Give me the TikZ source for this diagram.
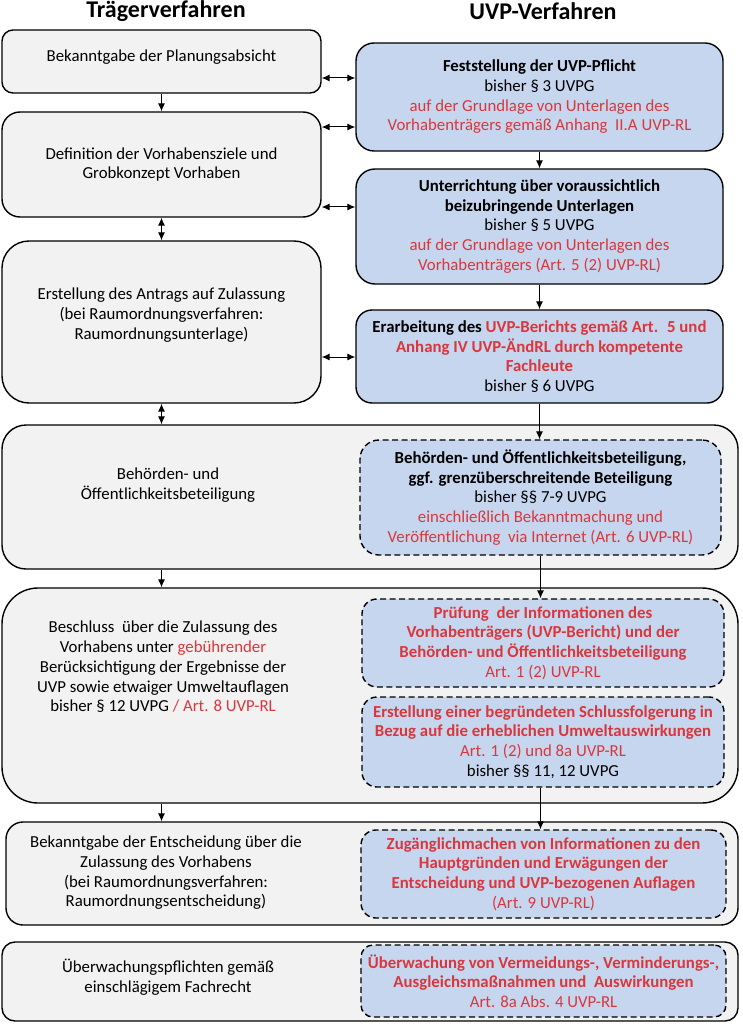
\documentclass[tikz,border=0pt]{standalone}
\usepackage{fontspec}
\setmainfont{Carlito}
\usetikzlibrary{arrows.meta}

\definecolor{grayfill}{RGB}{242,242,242}
\definecolor{bluefill}{RGB}{197,214,238}
\definecolor{uvpred}{RGB}{218,55,60}
\newcommand{\uvprot}[1]{\textcolor{uvpred}{#1}}

\tikzset{
	trbox/.style={draw=black, line width=1.4pt, fill=grayfill, align=center, inner sep=0pt},
	uvpbox/.style={draw=black, line width=1.4pt, fill=bluefill, align=center, inner sep=0pt},
	uvpdash/.style={uvpbox, dash pattern=on 6pt off 3.5pt},
	trtext/.style={align=center, inner sep=0pt},
	title/.style={font=\fontsize{24}{28}\selectfont\bfseries},
	arr/.style={-{Latex[length=8pt,width=7pt]}, line width=1pt},
	dbl/.style={{Latex[length=8pt,width=7pt]}-{Latex[length=8pt,width=7pt]}, line width=1pt}
}

\begin{document}
\begin{tikzpicture}[x=1pt, y=-1pt, every node/.style={font=\fontsize{16.8}{19.7}\selectfont}]
	\useasboundingbox (0,0) rectangle (742,1024);
	% titles
	\node[title] (trtitle) at (166,11) {Trägerverfahren};
	\node[title] (uvptitle) at (543,11) {UVP-Verfahren};
	% Traegerverfahren
	\node[trbox, minimum width=319pt, minimum height=63pt, rounded corners=11pt, text depth=12pt] (plan) at (161.5,61.5) {Bekanntgabe der Planungsabsicht};
	\node[trbox, minimum width=319pt, minimum height=105pt, rounded corners=18pt] (ziele) at (161.5,164.5) {Definition der Vorhabensziele und\\Grobkonzept Vorhaben};
	\node[trbox, minimum width=319pt, minimum height=162pt, rounded corners=27pt] (antrag) at (161.5,322) {};
	\node[trtext] (antragtxt) at (161.5,315) {Erstellung des Antrags auf Zulassung\\(bei Raumordnungsverfahren:\\Raumordnungsunterlage)};
	\node[trbox, minimum width=736pt, minimum height=144pt, rounded corners=24pt] (beteil) at (370,497) {};
	\node[trtext] (beteiltxt) at (168,485) {Behörden- und\\Öffentlichkeitsbeteiligung};
	\node[trbox, minimum width=736pt, minimum height=215pt, rounded corners=36pt] (beschluss) at (370,695.5) {};
	\node[trtext] (beschlusstxt) at (163,667) {Beschluss~ über die Zulassung des\\Vorhabens unter \uvprot{gebührender}\\Berücksichtigung der Ergebnisse der\\UVP sowie etwaiger Umweltauflagen\\bisher § 12 UVPG \uvprot{/ Art. 8 UVP-RL}};
	\node[trbox, minimum width=732pt, minimum height=103pt, rounded corners=17pt] (entsch) at (372,873.5) {};
	\node[trtext] (entschtxt) at (166,873) {Bekanntgabe der Entscheidung über die\\Zulassung des Vorhabens\\(bei Raumordnungsverfahren:\\Raumordnungsentscheidung)};
	\node[trbox, minimum width=736pt, minimum height=79pt, rounded corners=13pt] (ueberw) at (370,981.5) {};
	\node[trtext] (ueberwtxt) at (168,977) {Überwachungspflichten gemäß\\einschlägigem Fachrecht};
	% UVP-Verfahren
	\node[uvpbox, minimum width=367pt, minimum height=108pt, rounded corners=18pt] (pflicht) at (539.5,97) {\textbf{Feststellung der UVP-Pflicht}\\bisher § 3 UVPG\\\uvprot{auf der Grundlage von Unterlagen des}\\\uvprot{Vorhabenträgers gemäß Anhang~ II.A UVP-RL}};
	\node[uvpbox, minimum width=367pt, minimum height=115pt, rounded corners=19pt] (unterricht) at (539.5,226.5) {\textbf{Unterrichtung über voraussichtlich}\\\textbf{beizubringende Unterlagen}\\bisher § 5 UVPG\\\uvprot{auf der Grundlage von Unterlagen des}\\\uvprot{Vorhabenträgers (Art. 5 (2) UVP-RL)}};
	\node[uvpbox, minimum width=367pt, minimum height=93pt, rounded corners=16pt] (bericht) at (539.5,356.5) {\textbf{Erarbeitung des \uvprot{UVP-Berichts gemäß Art.~ 5 und}}\\\textbf{\uvprot{Anhang IV UVP-ÄndRL durch kompetente}}\\\textbf{\uvprot{Fachleute}}\\bisher § 6 UVPG};
	\node[uvpdash, minimum width=361pt, minimum height=115pt, rounded corners=19pt] (oeff) at (540.5,497.5) {\textbf{Behörden- und Öffentlichkeitsbeteiligung,}\\\textbf{ggf. grenzüberschreitende Beteiligung}\\bisher §§ 7-9 UVPG\\\uvprot{einschließlich Bekanntmachung und}\\\uvprot{Veröffentlichung~ via Internet (Art. 6 UVP-RL)}};
	\node[uvpdash, minimum width=362pt, minimum height=88pt, rounded corners=15pt] (pruef) at (543,643) {\textbf{\uvprot{Prüfung~ der Informationen des}}\\\textbf{\uvprot{Vorhabenträgers (UVP-Bericht) und der}}\\\textbf{\uvprot{Behörden- und Öffentlichkeitsbeteiligung}}\\\uvprot{Art. 1 (2) UVP-RL}};
	\node[uvpdash, minimum width=362pt, minimum height=90pt, rounded corners=15pt] (folgerung) at (543,742) {\textbf{\uvprot{Erstellung einer begründeten Schlussfolgerung in}}\\\textbf{\uvprot{Bezug auf die erheblichen Umweltauswirkungen}}\\\uvprot{Art. 1 (2) und 8a UVP-RL}\\bisher §§ 11, 12 UVPG};
	\node[uvpdash, minimum width=365pt, minimum height=88pt, rounded corners=15pt] (zugang) at (543.5,874) {\textbf{\uvprot{Zugänglichmachen von Informationen zu den}}\\\textbf{\uvprot{Hauptgründen und Erwägungen der}}\\\textbf{\uvprot{Entscheidung und UVP-bezogenen Auflagen}}\\\uvprot{(Art. 9 UVP-RL)}};
	\node[uvpdash, minimum width=365pt, minimum height=72pt, rounded corners=12pt] (kontrolle) at (543.5,981) {\textbf{\uvprot{Überwachung von Vermeidungs-, Verminderungs-,}}\\\textbf{\uvprot{Ausgleichsmaßnahmen und~ Auswirkungen}}\\\uvprot{Art. 8a Abs. 4 UVP-RL}};
	% left column arrows
	\draw[arr] (plan.south) -- (ziele.north);
	\draw[dbl] (ziele.south) -- (antrag.north);
	\draw[dbl] (antrag.south) -- (antrag.south |- beteil.north);
	\draw[arr] (antrag.south |- beteil.south) -- (antrag.south |- beschluss.north);
	\draw[arr] (antrag.south |- beschluss.south) -- (antrag.south |- entsch.north);
	% right column arrows
	\draw[arr] (pflicht.south) -- (unterricht.north);
	\draw[arr] (unterricht.south) -- (bericht.north);
	\draw[arr] (bericht.south) -- (bericht.south |- oeff.north);
	\draw[arr] (oeff.south) -- (oeff.south |- pruef.north);
	\draw[arr] (oeff.south |- folgerung.south) -- (oeff.south |- zugang.north);
	% cross arrows
	\draw[dbl] (plan.east |- 0,78) -- (pflicht.west |- 0,78);
	\draw[dbl] (ziele.east |- 0,127) -- (pflicht.west |- 0,127);
	\draw[dbl] (ziele.east |- 0,207) -- (unterricht.west |- 0,207);
	\draw[dbl] (antrag.east |- 0,357) -- (bericht.west |- 0,357);
\end{tikzpicture}
\end{document}
